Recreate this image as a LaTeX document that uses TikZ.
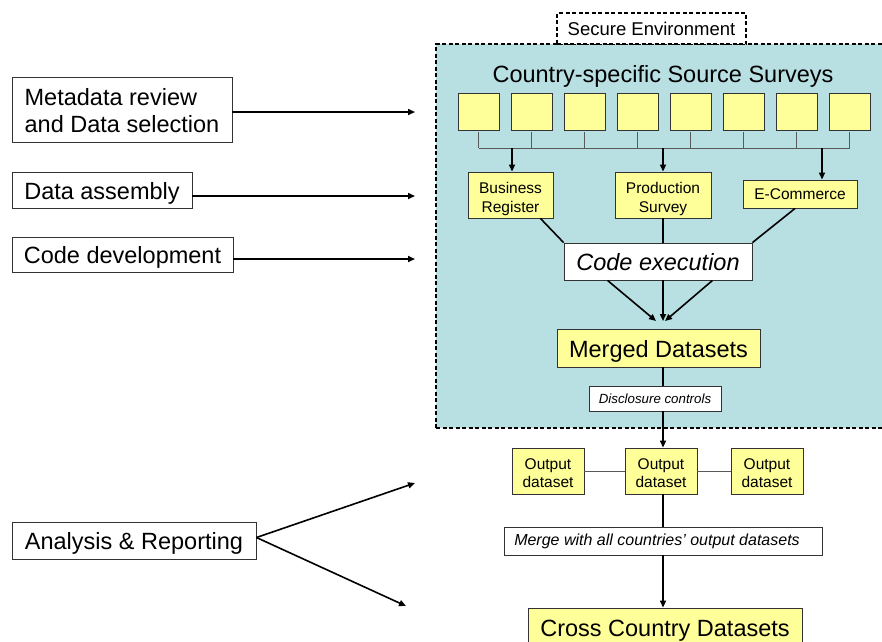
\documentclass[tikz,border=0pt]{standalone}
\usepackage{fontspec}
\setmainfont{Liberation Sans}
\usetikzlibrary{arrows.meta,calc}
\definecolor{envblue}{HTML}{B8DFE2}
\definecolor{dsyellow}{HTML}{FFFF99}
\definecolor{boxedge}{HTML}{333333}
\begin{document}
\begin{tikzpicture}[x=1pt,y=-1pt,
  box/.style={draw=boxedge, line width=0.9pt, inner sep=0pt, anchor=center},
  wbox/.style={box, fill=white},
  ybox/.style={box, fill=dsyellow},
  big/.style={font=\fontsize{23.5}{27}\selectfont},
  bigone/.style={big, text height=18pt, text depth=0pt},
  midf/.style={font=\fontsize{15.5}{18.5}\selectfont},
  conn/.style={line width=1.6pt, black},
  arr/.style={conn, -{Triangle[length=7pt,width=6pt]}},
  busline/.style={line width=1pt, black!65},
  envdash/.style={dash pattern=on 4pt off 2.5pt, line width=1.3pt}
]
\useasboundingbox (0,0) rectangle (882,641);

% secure environment
\node[draw, envdash, fill=envblue, minimum width=450pt, minimum height=384pt, inner sep=0pt] (env) at (661,236) {};
\node[draw, envdash, fill=white, minimum width=189pt, minimum height=31pt, inner sep=0pt, font=\fontsize{18.5}{21}\selectfont, text height=13pt, text depth=0pt] (sec) at (651.5,28.5) {Secure Environment};
\node[big] (title) at (663,76) {Country-specific Source Surveys};

% source squares
\foreach \i in {0,...,7} {
  \node[ybox, minimum width=41pt, minimum height=37pt] (sq\i) at (478.5+53*\i,111.5) {};
}
\coordinate (bus) at (0,148);
\foreach \i in {0,...,7} {
  \draw[busline] ([yshift=-2pt]sq\i.south) -- (sq\i.south |- bus);
}
\draw[busline] (sq0.south |- bus) -- (sq7.south |- bus);

% survey boxes
\node[ybox, minimum width=85pt, minimum height=46pt, align=center, midf] (br) at (510.5,195) {\rule{0pt}{19pt}Business\\Register};
\node[ybox, minimum width=96pt, minimum height=46pt, align=center, midf] (ps) at (663,195) {\rule{0pt}{19pt}Production\\Survey};
\node[ybox, minimum width=114pt, minimum height=28pt, midf, text depth=0pt] (ec) at (800,194) {E-Commerce};

\draw[arr] ([xshift=1.5pt]br.north |- bus) -- ([xshift=1.5pt]br.north);
\draw[arr] (ps.north |- bus) -- (ps.north);
\draw[arr] ([xshift=22pt]ec.north |- bus) -- ([xshift=22pt]ec.north);

% code execution
\node[wbox, minimum width=188pt, minimum height=37pt, bigone, font=\fontsize{23.5}{27}\selectfont\itshape] (ce) at (658,261.5) {Code execution};
\draw[conn] ([xshift=-13pt]br.south east) -- (ce.north west);
\draw[conn] (ps.south) -- (ps.south |- ce.north);
\draw[conn] ([xshift=-5pt]ec.south) -- (ce.north east);

% merged datasets
\node[ybox, minimum width=203pt, minimum height=38pt, bigone] (md) at (658.5,348) {Merged Datasets};
\coordinate (mhit) at (660,321);
\draw[arr] ([xshift=44pt]ce.south west) -- ([xshift=-4pt]mhit);
\draw[arr] (ce.south -| ps.south) -- (mhit -| ps.south);
\draw[arr] ([xshift=-40pt]ce.south east) -- ([xshift=5pt]mhit);

% disclosure controls
\node[wbox, minimum width=132pt, minimum height=25pt, font=\fontsize{13.3}{15}\selectfont\itshape] (dc) at (655,398.5) {Disclosure controls};
\draw[conn] (md.south -| ps.south) -- (dc.north -| ps.south);

% output datasets
\node[ybox, minimum width=72pt, minimum height=46pt, align=center, midf] (od1) at (548,471) {\rule{0pt}{15pt}Output\\dataset};
\node[ybox, minimum width=72pt, minimum height=46pt, align=center, midf] (od2) at (661,471) {\rule{0pt}{15pt}Output\\dataset};
\node[ybox, minimum width=72pt, minimum height=46pt, align=center, midf] (od3) at (767,471) {\rule{0pt}{15pt}Output\\dataset};
\draw[busline] (od1.east) -- (od2.west);
\draw[busline] (od2.east) -- (od3.west);
\draw[arr] (dc.south -| ps.south) -- (od2.north -| ps.south);

% merge
\node[wbox, minimum width=318pt, minimum height=28pt, font=\fontsize{16}{18}\selectfont\itshape] (mg) at (663,541) {Merge with all countries' output datasets\hspace*{12pt}};
\draw[conn] (od2.south -| ps.south) -- (mg.north -| ps.south);

% cross country
\node[ybox, minimum width=274pt, minimum height=38pt, bigone] (cc) at (665,627) {Cross Country Datasets};
\draw[arr] (mg.south -| ps.south) -- (cc.north -| ps.south);

% left-hand stages
\node[wbox, minimum width=220pt, minimum height=65pt, align=left, big] (mr) at (122,109.5) {\rule{0pt}{19pt}Metadata review\\and Data selection};
\node[wbox, minimum width=180pt, minimum height=36pt, bigone] (da) at (102,190) {Data assembly};
\node[wbox, minimum width=221pt, minimum height=35pt, bigone] (cd) at (122.5,254.5) {Code development};
\node[wbox, minimum width=244pt, minimum height=37pt, bigone] (ar) at (134,540.5) {Analysis \& Reporting};

\coordinate (t1) at (415,112);
\coordinate (t2) at (415,196);
\coordinate (t3) at (415,259);
\coordinate (t4) at (415,483);
\coordinate (t5) at (406,606);
\draw[arr] (t1 -| mr.east) -- (t1);
\draw[arr] (t2 -| da.east) -- (t2);
\draw[arr] (t3 -| cd.east) -- (t3);
\draw[arr] ([yshift=3pt]ar.east) -- (t4);
\draw[arr] ([yshift=3pt]ar.east) -- (t5);
\end{tikzpicture}
\end{document}
